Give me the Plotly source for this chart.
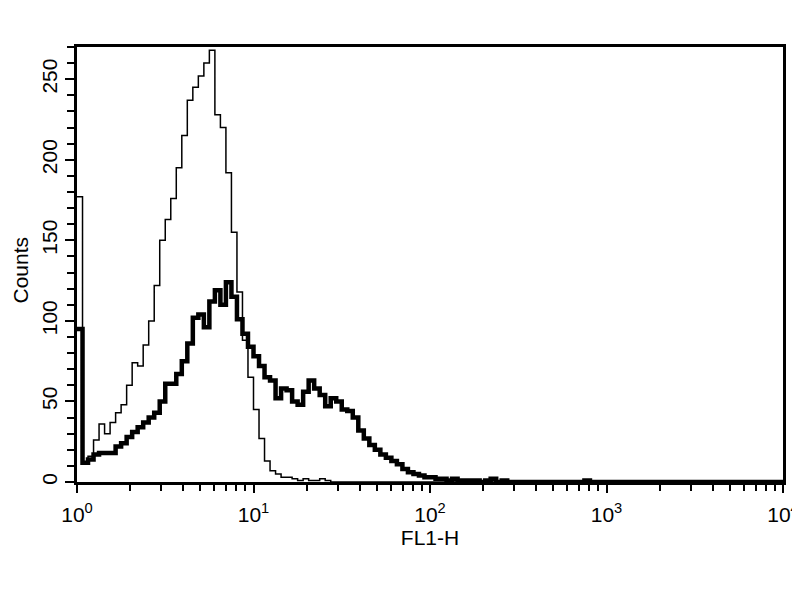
import plotly.graph_objects as go

# FL1-H histogram, 128 channels per 4 decades (32 per decade)
CHANNELS_PER_DECADE = 32
N_CHANNELS = 128

# control (thin line) counts per channel
control_counts = [177, 12, 16, 26, 36, 30, 37, 43, 48, 60, 74, 72, 85, 100, 122, 150,
                  163, 176, 195, 215, 237, 245, 252, 260, 268, 228, 220, 192, 155, 118, 88, 65,
                  45, 27, 13, 7, 5, 3, 3, 2, 1, 2, 1, 1, 2, 1]

# stained sample (thick line) counts per channel
sample_counts = [95, 12, 14, 17, 18, 18, 18, 22, 24, 28, 31, 34, 37, 40, 43, 50,
                 61, 61, 67, 75, 86, 102, 104, 96, 112, 119, 110, 124, 115, 101, 92, 84,
                 78, 72, 65, 63, 52, 58, 57, 50, 48, 56, 63, 58, 54, 47, 52, 50,
                 45, 44, 40, 32, 27, 23, 20, 17, 15, 13, 11, 8, 6, 5, 4, 3,
                 3, 2, 2, 1, 2, 1, 1, 1, 1, 0, 1, 2, 0, 1, 0, 0,
                 0, 0, 0, 0, 0, 0, 0, 0, 0, 0, 0, 0, 1]

x_ticks = [1, 10, 100, 1000, 10000]
x_tick_labels = ["10<sup>0</sup>", "10<sup>1</sup>", "10<sup>2</sup>", "10<sup>3</sup>", "10<sup>4</sup>"]
y_ticks = [0, 50, 100, 150, 200, 250]


def pad(counts):
    return counts + [0] * (N_CHANNELS - len(counts))


# channel edges on the FL1-H log scale (last value repeated to close the step)
edges = [10 ** (i / CHANNELS_PER_DECADE) for i in range(N_CHANNELS + 1)]


def step(counts):
    c = pad(counts)
    return edges, c + [c[-1]]


fig = go.Figure()

x, y = step(control_counts)
fig.add_trace(go.Scatter(x=x, y=y, mode='lines', line=dict(shape='hv', width=1.5, color='black'),
                         name='control', showlegend=False, cliponaxis=False))
x, y = step(sample_counts)
fig.add_trace(go.Scatter(x=x, y=y, mode='lines', line=dict(shape='hv', width=4.5, color='black'),
                         name='sample', showlegend=False))

minor_x = [m * 10 ** d for d in range(4) for m in range(2, 10)]

# the page body has an 8px margin, so the figure is sized to fit the window exactly
fig.update_layout(
    width=792, height=592,
    margin=dict(l=69, r=17, t=39, b=118),
    plot_bgcolor='white', paper_bgcolor='white',
    font=dict(family='Arial, Liberation Sans, sans-serif', color='black', size=21),
)
fig.update_xaxes(
    type='log', range=[0, 4], automargin=False,
    tickmode='array', tickvals=x_ticks, ticktext=x_tick_labels,
    ticks='outside', ticklen=8, tickwidth=2, tickcolor='black',
    minor=dict(tickmode='array', tickvals=minor_x, ticks='outside', ticklen=6, tickwidth=2, tickcolor='black'),
    showline=True, linewidth=2.5, linecolor='black', mirror=True,
    showgrid=False, zeroline=False,
    ticklabelstandoff=4,
    title=dict(text='FL1-H', font=dict(size=21), standoff=2),
)
fig.update_yaxes(
    range=[0, 270], automargin=False,
    tickmode='array', tickvals=y_ticks, tickangle=-90,
    ticks='outside', ticklen=9, tickwidth=2, tickcolor='black',
    minor=dict(dtick=10, ticks='outside', ticklen=7, tickwidth=2, tickcolor='black'),
    showline=True, linewidth=2.5, linecolor='black', mirror=True,
    showgrid=False, zeroline=False,
    ticklabelstandoff=0,
)
fig.add_annotation(text='Counts', textangle=-90, xref='paper', yref='paper', x=0, y=0.5,
                   xanchor='center', yanchor='middle', xshift=-57, yshift=-6,
                   showarrow=False, font=dict(size=21))

fig.write_html("out.html")
